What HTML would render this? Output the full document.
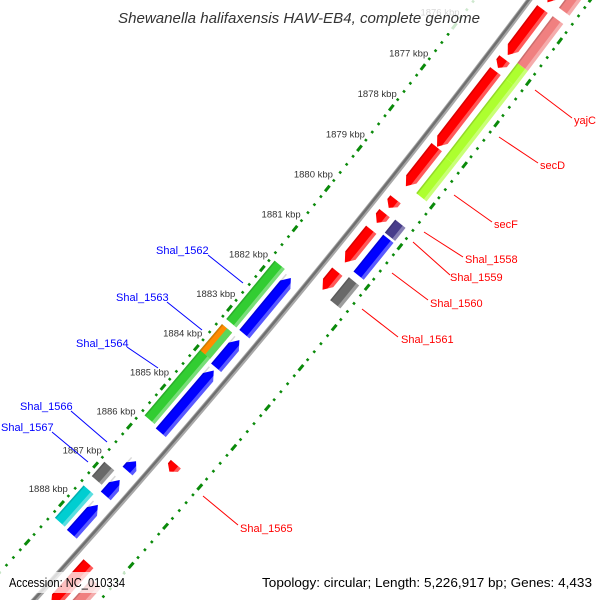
<!DOCTYPE html>
<html><head><meta charset="utf-8"><style>
html,body{margin:0;padding:0;background:#fff;width:600px;height:600px;overflow:hidden}
svg{display:block}
text{font-family:"Liberation Sans","DejaVu Sans",sans-serif}
</style></head><body>
<svg id="map" width="600" height="600" viewBox="0 0 600 600" xmlns="http://www.w3.org/2000/svg">
<g id="rulers"></g>
<g id="backbone"></g>
<g id="features"></g>
<g id="tick-labels"></g>
<g id="labels"></g>
<rect x="110" y="0" width="378" height="33" fill="#fff" opacity="0.8"/>
<text x="299" y="23" text-anchor="middle" font-size="14.5" font-style="italic" fill="#333" textLength="362" lengthAdjust="spacingAndGlyphs">Shewanella halifaxensis HAW-EB4, complete genome</text>
<rect x="0" y="572" width="146" height="21" fill="#fff" opacity="0.75"/>
<rect x="256" y="572" width="344" height="21" fill="#fff" opacity="0.75"/>
<text x="9" y="587" font-size="13" fill="#000" textLength="116" lengthAdjust="spacingAndGlyphs">Accession: NC_010334</text>
<text x="592" y="587" text-anchor="end" font-size="13" fill="#000" textLength="330" lengthAdjust="spacingAndGlyphs">Topology: circular; Length: 5,226,917 bp; Genes: 4,433</text>
</svg>
<script>
// ---- data ----
const featNames  = ["f-top-red","f-red-1","f-red-2","f-red-3","f-red-4","f-red-5","f-red-6","f-red-7","Shal_1561-red","Shal_1565","f-red-bottom","f-red-bottom2",
                    "f-salmon-top","f-salmon-1","yajC","secD","secF","Shal_1558","Shal_1560","Shal_1561","f-salmon-bottom",
                    "blue-a","blue-b","blue-c","blue-d","blue-e","blue-f",
                    "Shal_1562","green-b","Shal_1563","Shal_1566","Shal_1567"];
const featStart  = [1873.6,1874.71,1875.92,1876.21,1878.06,1879.34,1879.68,1880.09,1881.13,1885.97,1888.52,1890.0,
                    1873.5,1874.70,1875.83,1876.21,1878.11,1879.65,1880.02,1881.07,1888.70,
                    1881.79,1883.35,1884.12,1886.43,1886.91,1887.55,
                    1881.73,1883.33,1883.33,1886.84,1887.45];
const featEnd    = [1874.55,1875.82,1876.13,1878.05,1879.02,1879.55,1879.92,1880.90,1881.58,1886.16,1889.6,1891.0,
                    1874.50,1875.83,1876.21,1878.11,1879.00,1879.97,1880.93,1881.64,1890.2,
                    1883.20,1884.05,1885.70,1886.68,1887.32,1888.31,
                    1883.20,1885.65,1883.99,1887.21,1888.29];
const featRing   = [1,1,1,1,1,1,1,1,1,1,1,1, 2,2,2,2,2,2,2,2,2, -1,-1,-1,-1,-1,-1, -2,-2,-2,-2,-2];
const featStrand = [1,1,1,1,1,1,1,1,1,1,1,1, 0,0,0,0,0,0,0,0,0, -1,-1,-1,-1,-1,-1, 0,0,0,0,0];
const featColor  = ["#ff0000","#ff0000","#ff0000","#ff0000","#ff0000","#ff0000","#ff0000","#ff0000","#ff0000","#ff0000","#ff0000","#ff0000",
                    "#f08080","#f08080","#adff2f","#adff2f","#adff2f","#483d8b","#0000ff","#696969","#f08080",
                    "#0000ff","#0000ff","#0000ff","#0000ff","#0000ff","#0000ff",
                    "#32cd32","#32cd32","#ff8c00","#696969","#00ced1"];
const tickStart = 1873, tickEnd = 1891;
const tickLabelKbp = [1876,1877,1878,1879,1880,1881,1882,1883,1884,1885,1886,1887,1888];

// ---- geometry ----
const CX=-6188, CY=-5037, R0=8396, TH0=37.67, DEG_PER_KBP=0.3536;
const ringD = {"1":16,"2":35,"-1":-16,"-2":-33};
const HALF=6.6;
function pt(k,d){const t=(TH0+(k-1877)*DEG_PER_KBP)*Math.PI/180;return [CX+(R0+d)*Math.cos(t),CY+(R0+d)*Math.sin(t)];}
const NS="http://www.w3.org/2000/svg";
function mk(tag,attrs,parent){const e=document.createElementNS(NS,tag);for(const a in attrs)e.setAttribute(a,attrs[a]);parent.appendChild(e);return e;}
function ps(arr){return arr.map(p=>p[0].toFixed(2)+","+p[1].toFixed(2)).join(" ");}

// backbone
const bb=document.getElementById('backbone');
function arcPath(d,k1,k2){const pts=[];for(let k=k1;k<=k2;k+=0.25)pts.push(pt(k,d));return "M"+pts.map(p=>p[0].toFixed(2)+" "+p[1].toFixed(2)).join(" L");}
let e=mk('path',{d:arcPath(0,1872,1892),stroke:"#a8a8a8","stroke-width":5.5,fill:"none"},bb);


e=mk('path',{d:arcPath(-0.6,1872,1892),stroke:"#707070","stroke-width":2.5,fill:"none"},bb);



// rulers
const rg=document.getElementById('rulers');
[-44,49].forEach(function(rd){
  for(let i=Math.round(tickStart*5);i<=Math.round(tickEnd*5);i++){
    const k=i/5;
    const major=(i%5===0);
    const hl=major?0.07:0.024;
    const a=pt(k-hl,rd), b=pt(k+hl,rd);
    const t=mk('line',{x1:a[0],y1:a[1],x2:b[0],y2:b[1],stroke:"#0a8a0a","stroke-width":major?3:2.6,"stroke-linecap":"butt"},rg);
    
    
  }
});

// tick labels
const tl=document.getElementById('tick-labels');
tickLabelKbp.forEach(function(k){
  const p=pt(k-0.05,-64);
  const t=mk('text',{x:p[0].toFixed(1),y:(p[1]+3.5).toFixed(1),"text-anchor":"middle","font-size":"9.5",fill:"#333"},tl);
  t.textContent=k+" kbp";
  
  
});

// features
const fg=document.getElementById('features');
const HEAD=0.17;
for(let i=0;i<featNames.length;i++){
  const d=ringD[String(featRing[i])], k1=featStart[i], k2=featEnd[i], s=featStrand[i];
  const dIn=d-HALF, dOut=d+HALF;
  const h=Math.min(HEAD,(k2-k1)*0.55);
  let poly, hl;
  if(s===1){
    poly=[pt(k1,dIn),pt(k2-h,dIn),pt(k2,d),pt(k2-h,dOut),pt(k1,dOut)];
    hl=[pt(k1,dOut-3.5),pt(k2-h*0.4,dOut-3.5),pt(k2-h,dOut),pt(k1,dOut)];
  } else if(s===-1){
    poly=[pt(k2,dIn),pt(k1+h,dIn),pt(k1,d),pt(k1+h,dOut),pt(k2,dOut)];
    hl=[pt(k2,dOut-3.5),pt(k1+h*0.4,dOut-3.5),pt(k1+h,dOut),pt(k2,dOut)];
  } else {
    poly=[pt(k1,dIn),pt(k2,dIn),pt(k2,dOut),pt(k1,dOut)];
    hl=[pt(k1,dOut-3.5),pt(k2,dOut-3.5),pt(k2,dOut),pt(k1,dOut)];
  }
  const g=mk('g',{},fg);
  
  
  mk('polygon',{points:ps(poly),fill:featColor[i]},g);
  mk('polygon',{points:ps(hl),fill:"#fff",opacity:"0.35"},g);
  const dk=[pt(k1,dIn),pt(k2-(s===1?h:0),dIn),pt(k2-(s===1?h:0),dIn+1.5),pt(k1,dIn+1.5)];
  mk('polygon',{points:ps(dk),fill:"#000",opacity:"0.15"},g);
}
// green split on outer half where orange overlays
(function(){
  const p=[pt(1883.33,-33),pt(1883.99,-33),pt(1883.99,-33+HALF),pt(1883.33,-33+HALF)];
  const e2=mk('polygon',{points:ps(p),fill:"#5ad65a"},fg);
  
  
})();

// labels
const lg=document.getElementById('labels');
const labText=["Shal_1562","Shal_1563","Shal_1564","Shal_1566","Shal_1567","yajC","secD","secF","Shal_1558","Shal_1559","Shal_1560","Shal_1561","Shal_1565"];
const labColor=["#0000ff","#0000ff","#0000ff","#0000ff","#0000ff","#ff0000","#ff0000","#ff0000","#ff0000","#ff0000","#ff0000","#ff0000","#ff0000"];
const labX=[156,116,76,20,1,574,540,494,465,450,430,401,240];
const labY=[254,301,347,410,431,124,169,228,263,281,307,343,532];
const lineCoords=[[208,255,243,283],[167,302,202,330],[127,347,158,368],[71,411,107,442],[52,432,88,462],
                  [535,90,572,118],[499,137,538,163],[454,195,492,222],[424,232,463,257],[413,242,450,275],[392,273,428,300],[362,309,398,337],[203,496,238,525]];
for(let i=0;i<labText.length;i++){
  const c=lineCoords[i];
  const l=mk('line',{x1:c[0],y1:c[1],x2:c[2],y2:c[3],stroke:labColor[i],"stroke-width":1},lg);
  
  
  const t=mk('text',{x:labX[i],y:labY[i],"font-size":"11",fill:labColor[i]},lg);
  t.textContent=labText[i];
  
  
}
</script>
</body></html>
